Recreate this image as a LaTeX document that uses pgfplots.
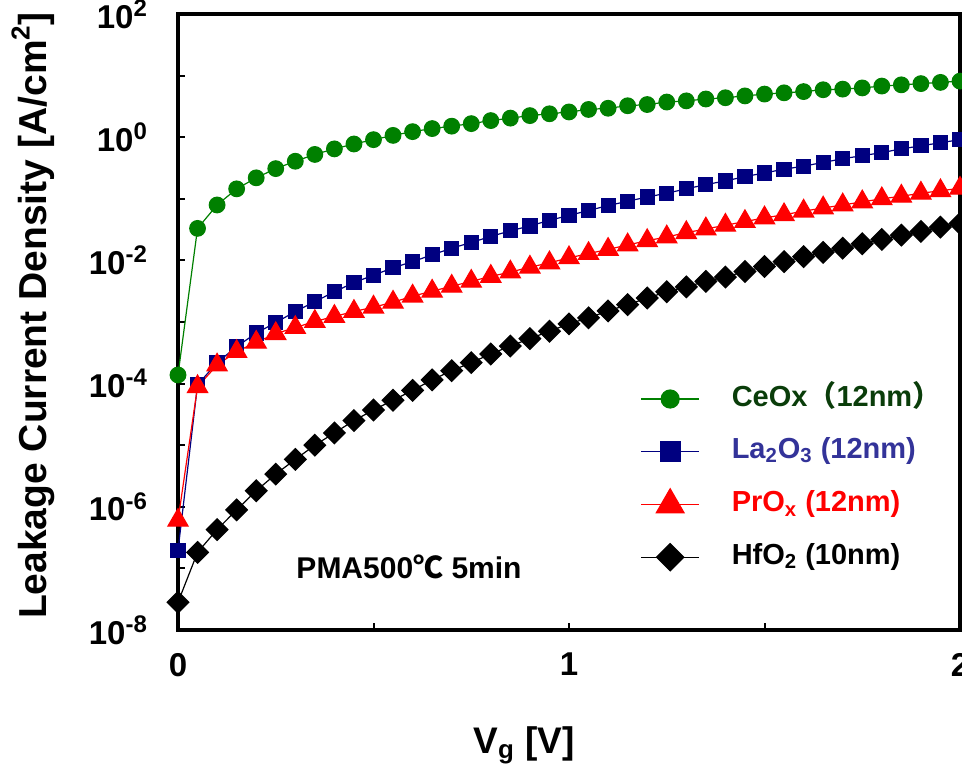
\documentclass[border=0pt]{standalone}
\usepackage{fontspec}
\setmainfont{Liberation Sans}
\newfontfamily\cjk{Noto Sans CJK SC}
\usepackage{pgfplots}
\usepackage{pgfplotstable}
\pgfplotsset{compat=1.18}

\definecolor{cegreen}{RGB}{0,128,0}
\definecolor{lanavy}{RGB}{0,0,128}
\definecolor{cetext}{RGB}{10,61,10}
\definecolor{latext}{RGB}{51,51,153}

% superscript for tick labels
\newcommand\tsup[1]{\raisebox{0.36em}{\fontsize{12}{12}\selectfont #1}}

% V, CeOx, La2O3, PrOx, HfO2  (A/cm^2)
\pgfplotstableread{
V    ce      la      pr      hf
0.00 1.38e-4 1.95e-7 6.03e-7 2.82e-8
0.05 3.31e-2 9.55e-5 8.91e-5 1.82e-7
0.10 7.94e-2 2.19e-4 2.00e-4 4.27e-7
0.15 1.45e-1 3.98e-4 3.31e-4 8.91e-7
0.20 2.19e-1 6.61e-4 4.68e-4 1.82e-6
0.25 3.09e-1 9.77e-4 6.46e-4 3.39e-6
0.30 4.07e-1 1.48e-3 8.13e-4 5.89e-6
0.35 5.25e-1 2.14e-3 1.02e-3 1.00e-5
0.40 6.46e-1 3.09e-3 1.23e-3 1.58e-5
0.45 7.76e-1 4.37e-3 1.48e-3 2.51e-5
0.50 9.12e-1 5.75e-3 1.74e-3 3.72e-5
0.55 1.07    7.59e-3 2.09e-3 5.37e-5
0.60 1.23    9.55e-3 2.63e-3 7.76e-5
0.65 1.38    1.23e-2 3.16e-3 1.15e-4
0.70 1.51    1.58e-2 3.80e-3 1.62e-4
0.75 1.66    1.95e-2 4.57e-3 2.19e-4
0.80 1.86    2.45e-2 5.50e-3 3.02e-4
0.85 2.04    3.02e-2 6.46e-3 4.07e-4
0.90 2.24    3.63e-2 7.76e-3 5.37e-4
0.95 2.40    4.47e-2 9.12e-3 7.08e-4
1.00 2.57    5.37e-2 1.10e-2 9.33e-4
1.05 2.82    6.46e-2 1.29e-2 1.17e-3
1.10 2.95    7.76e-2 1.51e-2 1.51e-3
1.15 3.24    9.12e-2 1.78e-2 1.91e-3
1.20 3.39    1.07e-1 2.09e-2 2.45e-3
1.25 3.72    1.23e-1 2.40e-2 3.09e-3
1.30 3.89    1.45e-1 2.82e-2 3.72e-3
1.35 4.17    1.70e-1 3.24e-2 4.57e-3
1.40 4.37    1.95e-1 3.72e-2 5.37e-3
1.45 4.68    2.29e-1 4.27e-2 6.61e-3
1.50 5.01    2.63e-1 4.90e-2 7.94e-3
1.55 5.25    3.02e-1 5.50e-2 9.55e-3
1.60 5.50    3.39e-1 6.31e-2 1.15e-2
1.65 5.89    3.89e-1 7.08e-2 1.35e-2
1.70 6.03    4.47e-1 7.94e-2 1.58e-2
1.75 6.31    5.01e-1 8.91e-2 1.86e-2
1.80 6.76    5.62e-1 1.00e-1 2.19e-2
1.85 7.08    6.46e-1 1.10e-1 2.57e-2
1.90 7.41    7.24e-1 1.23e-1 2.95e-2
1.95 7.76    8.13e-1 1.35e-1 3.47e-2
2.00 8.13    9.12e-1 1.48e-1 3.98e-2
}\leak

\begin{document}
\begin{tikzpicture}
\path[use as bounding box] (-89pt,-69.5pt) rectangle (392pt,315pt);
\begin{axis}[
  at={(0pt,0pt)}, anchor=south west,
  scale only axis, width=391pt, height=308pt,
  ymode=log,
  xmin=0, xmax=2, ymin=1e-8, ymax=1e2,
  axis line style={line width=1.7pt},
  tick style={line width=1pt, black},
  major tick length=3.5pt,
  tick align=inside,
  xtick pos=bottom, ytick pos=left,
  xtick={0,0.5,1,1.5,2},
  xticklabels={0,,1,,2},
  ytick={1e-8,1e-7,1e-6,1e-5,1e-4,1e-3,1e-2,1e-1,1e0,1e1,1e2},
  yticklabels={10\tsup{-8},,10\tsup{-6},,10\tsup{-4},,10\tsup{-2},,10\tsup{0},,10\tsup{2}},
  yminorticks=false,
  tick label style={font=\fontsize{16.5}{18}\selectfont\bfseries},
  xticklabel style={yshift=-8pt},
  yticklabel style={xshift=-12pt},
  xlabel={V\textsubscript{g} [V]},
  ylabel={Leakage Current Density [A/cm\raisebox{0.42em}{\fontsize{13}{13}\selectfont 2}]},
  xlabel style={font=\fontsize{18.5}{20}\selectfont\bfseries, at={(axis description cs:0.4425,-0.2)}, anchor=base},
  ylabel style={font=\fontsize{19.5}{21}\selectfont\bfseries, at={(axis description cs:-0.1855,0.51)}, anchor=center},
  clip=false,
  legend cell align=left,
  legend image code/.code={\draw[mark repeat=2,mark phase=2] plot coordinates {(0pt,0pt) (14.5pt,0pt) (29pt,0pt)};},
  legend style={draw=none, fill=none, inner sep=0pt,
    at={(axis description cs:0.591,0.4)}, anchor=north west,
    font=\fontsize{14.5}{16}\selectfont\bfseries,
    column sep=15pt, row sep=11.2pt,
    nodes={inner sep=1pt, text height=10pt, text depth=3pt}},
]
\addplot[color=cegreen, line width=0.6pt, mark=*, mark size=3.9pt,
  mark options={fill=cegreen, draw=cegreen},
  legend image post style={mark size=4.5pt}] table[x=V, y=ce] {\leak};
\addlegendentry{\textcolor{cetext}{CeOx{\cjk （}12nm{\cjk ）}}}
\addplot[color=lanavy, line width=0.6pt, mark=square*, mark size=3.5pt,
  mark options={fill=lanavy, draw=lanavy},
  legend image post style={mark size=5pt}] table[x=V, y=la] {\leak};
\addlegendentry{\textcolor{latext}{La\textsubscript{2}O\textsubscript{3} (12nm)}}
\addplot[color=red, line width=0.6pt, mark=triangle*, mark size=5.8pt,
  mark options={fill=red, draw=red},
  legend image post style={mark size=8pt}] table[x=V, y=pr] {\leak};
\addlegendentry{\textcolor{red}{PrO\textsubscript{x} (12nm)}}
\addplot[color=black, line width=0.6pt, mark=square*, mark size=3.8pt,
  mark options={fill=black, draw=black, rotate=45},
  legend image post style={mark size=4.8pt}] table[x=V, y=hf] {\leak};
\addlegendentry{HfO\textsubscript{2} (10nm)}
\node[anchor=base west, font=\fontsize{15}{17}\selectfont\bfseries]
  at (axis cs:0.285,6.9e-8) {PMA500{\cjk ℃} 5min};
\end{axis}
\end{tikzpicture}
\end{document}
